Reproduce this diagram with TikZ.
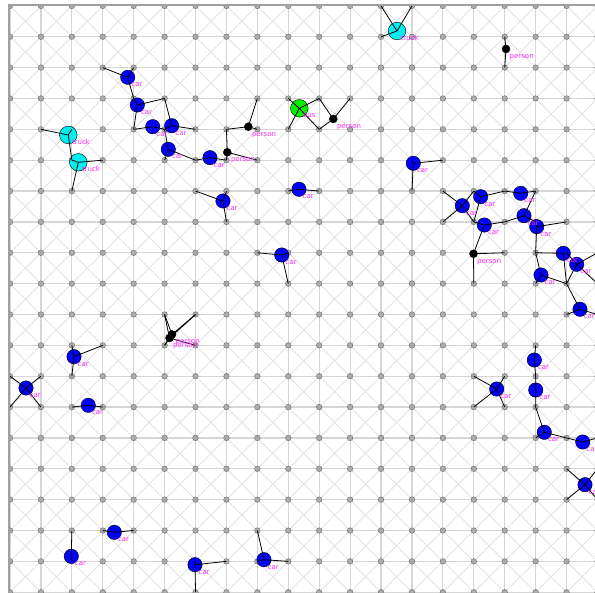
\documentclass[tikz,border=0pt]{standalone}
\usepackage{fontspec}
\setsansfont{DejaVu Sans}
\definecolor{gl}{HTML}{D6D6D6}
\definecolor{gd}{HTML}{DEDEDE}
\definecolor{dotf}{HTML}{ABABAB}
\definecolor{dotd}{HTML}{6A6A6A}
\definecolor{frm}{HTML}{A0A0A0}
\definecolor{lblc}{RGB}{255,40,255}
\definecolor{truckc}{RGB}{0,240,240}
\definecolor{busc}{RGB}{0,240,0}
\definecolor{carc}{RGB}{0,0,255}
\tikzset{
  gridline/.style={draw=gl,line width=1.2pt},
  diagline/.style={draw=gd,line width=0.7pt},
  gdot/.style={circle,fill=dotf,draw=dotd,line width=0.4pt,minimum size=5.6pt,inner sep=0pt},
  carv/.style={circle,fill=carc,draw=black,line width=0.4pt,minimum size=14.4pt,inner sep=0pt},
  truckv/.style={circle,fill=truckc,draw=black,line width=0.4pt,minimum size=17.6pt,inner sep=0pt},
  busv/.style={circle,fill=busc,draw=black,line width=0.4pt,minimum size=17.6pt,inner sep=0pt},
  personv/.style={circle,fill=black,draw=black,line width=0.4pt,minimum size=8pt,inner sep=0pt},
  lbl/.style={anchor=base west,inner sep=0pt,text=lblc,font=\sffamily\fontsize{7}{8}\selectfont},
  link/.style={draw=black,line width=0.8pt},
  frameline/.style={draw=frm,line width=1.5pt}
}
\newcommand\veh[5]{\node[#2] (#1) at (#3,#4) {};}
\newcommand\vlab[4]{\node[lbl] (#1-l) at ({#2+3.5},{#3+9.5}) {#4};}
\newcommand\lk[2]{\foreach \g in {#2} {\draw[link] (#1.center) -- (g-\g.center);}}
\begin{document}
\begin{tikzpicture}[x=1pt,y=-1pt]
\useasboundingbox (0,0) rectangle (595,593);
\begin{scope}
\clip (9,5) rectangle (595,593);
% grid lines
\foreach \i in {0,...,19} {
  \draw[gridline] ({10+30.92*\i},0) -- ({10+30.92*\i},600);
  \draw[gridline] (0,{5.9+30.86*\i}) -- (600,{5.9+30.86*\i});
}
% diagonals
\foreach \i in {0,...,18} {
  \foreach \j in {0,...,18} {
    \draw[diagline] ({10+30.92*\i},{5.9+30.86*\j}) -- ({10+30.92*(\i+1)},{5.9+30.86*(\j+1)});
    \draw[diagline] ({10+30.92*(\i+1)},{5.9+30.86*\j}) -- ({10+30.92*\i},{5.9+30.86*(\j+1)});
  }
}
% grid nodes
\foreach \i in {0,...,19} {
  \foreach \j in {0,...,19} {
    \node[gdot] (g-\i-\j) at ({10+30.92*\i},{5.9+30.86*\j}) {};
  }
}
% vehicles
\veh{t1}{truckv}{68.3}{135}{}
\veh{t2}{truckv}{78.3}{162.3}{}
\veh{t3}{truckv}{397}{31}{}
\veh{b1}{busv}{299.3}{108.3}{}
\veh{p1}{personv}{227.3}{152.3}{}
\veh{p2}{personv}{248.3}{126.7}{}
\veh{p3}{personv}{333.3}{119}{}
\veh{p4}{personv}{506}{49}{}
\veh{p5}{personv}{473.5}{253.8}{}
\veh{p6}{personv}{169.5}{338}{}
\veh{p7}{personv}{172}{334.5}{}
\veh{c1}{carv}{127.7}{77.3}{}
\veh{c2}{carv}{137.3}{105}{}
\veh{c3}{carv}{152.7}{126.7}{}
\veh{c4}{carv}{171.7}{125.7}{}
\veh{c5}{carv}{168.3}{149.3}{}
\veh{c6}{carv}{210}{157.7}{}
\veh{c7}{carv}{299}{189.3}{}
\veh{c8}{carv}{223}{201}{}
\veh{c9}{carv}{413.3}{163.3}{}
\veh{c10}{carv}{281.7}{255}{}
\veh{c11}{carv}{462.3}{205.7}{}
\veh{c12}{carv}{480.7}{196.7}{}
\veh{c13}{carv}{520.7}{193.3}{}
\veh{c14}{carv}{484.3}{225}{}
\veh{c15}{carv}{524}{215.7}{}
\veh{c16}{carv}{536.7}{226.7}{}
\veh{c17}{carv}{563.3}{253.3}{}
\veh{c18}{carv}{576.7}{264.3}{}
\veh{c19}{carv}{541}{275}{}
\veh{c20}{carv}{580}{309.3}{}
\veh{c21}{carv}{534.3}{360}{}
\veh{c22}{carv}{535.7}{390}{}
\veh{c23}{carv}{496.7}{389}{}
\veh{c24}{carv}{544.3}{432.3}{}
\veh{c25}{carv}{582.7}{442}{}
\veh{c26}{carv}{585}{484.7}{}
\veh{c27}{carv}{74}{356.7}{}
\veh{c28}{carv}{26}{388}{}
\veh{c29}{carv}{88.3}{405.3}{}
\veh{c30}{carv}{114.3}{532.3}{}
\veh{c31}{carv}{71.3}{556.3}{}
\veh{c32}{carv}{195}{564.7}{}
\veh{c33}{carv}{264}{559.7}{}
% links
\lk{t1}{1-4,2-4,2-5}
\lk{t2}{2-5,3-5,2-6}
\lk{t3}{12-0,13-0,12-1}
\lk{b1}{9-3,10-3,9-4,10-4}
\lk{p1}{7-4,8-5,7-5}
\lk{p2}{7-4,8-3,8-4}
\lk{p3}{10-3,11-3,10-4}
\lk{p4}{16-1,16-2}
\lk{p5}{15-8,16-8,15-9}
\lk{p6}{5-10,6-10,5-11,6-11}
\lk{p7}{5-10,6-10,5-11}
\lk{c1}{3-2,4-2,4-3}
\lk{c2}{4-3,5-3,4-4}
\lk{c3}{4-4,5-4}
\lk{c4}{5-3,6-4,5-4}
\lk{c5}{5-4,6-5,5-5}
\lk{c6}{6-5,7-5}
\lk{c7}{9-6,10-6}
\lk{c8}{6-6,7-7,7-6}
\lk{c9}{14-5,13-6,13-5}
\lk{c10}{8-8,9-9,9-8}
\lk{c11}{14-6,15-6,14-7,15-7}
\lk{c12}{15-6,16-6,15-7}
\lk{c13}{16-6,17-6}
\lk{c14}{15-7,16-7,15-8}
\lk{c15}{16-7,17-6,17-7}
\lk{c16}{17-7,18-7,17-8}
\lk{c17}{17-8,18-8,18-9}
\lk{c18}{18-8,19-8,18-9,19-9}
\lk{c19}{17-8,18-9,17-9}
\lk{c20}{18-9,18-10,19-10}
\lk{c21}{17-11,17-12}
\lk{c22}{17-12,17-13}
\lk{c23}{15-12,16-12,15-13,16-13}
\lk{c24}{17-13,18-14,17-14}
\lk{c25}{18-14,19-14}
\lk{c26}{18-15,18-16,19-15,19-16}
\lk{c27}{2-11,3-11,2-12}
\lk{c28}{0-12,1-12,0-13,1-13}
\lk{c29}{2-13,3-13}
\lk{c30}{3-17,4-17}
\lk{c31}{2-17,2-18}
\lk{c32}{6-18,7-18,6-19}
\lk{c33}{8-17,8-18,9-18}
% labels
\vlab{t1}{68.3}{135}{truck}
\vlab{t2}{78.3}{162.3}{truck}
\vlab{t3}{397}{31}{truck}
\vlab{b1}{299.3}{108.3}{bus}
\vlab{p1}{227.3}{152.3}{person}
\vlab{p2}{248.3}{126.7}{person}
\vlab{p3}{333.3}{119}{person}
\vlab{p4}{506}{49}{person}
\vlab{p5}{473.5}{253.8}{person}
\vlab{p6}{169.5}{338}{person}
\vlab{p7}{172}{334.5}{person}
\vlab{c1}{127.7}{77.3}{car}
\vlab{c2}{137.3}{105}{car}
\vlab{c3}{152.7}{126.7}{car}
\vlab{c4}{171.7}{125.7}{car}
\vlab{c5}{168.3}{149.3}{car}
\vlab{c6}{210}{157.7}{car}
\vlab{c7}{299}{189.3}{car}
\vlab{c8}{223}{201}{car}
\vlab{c9}{413.3}{163.3}{car}
\vlab{c10}{281.7}{255}{car}
\vlab{c11}{462.3}{205.7}{car}
\vlab{c12}{480.7}{196.7}{car}
\vlab{c13}{520.7}{193.3}{car}
\vlab{c14}{484.3}{225}{car}
\vlab{c15}{524}{215.7}{car}
\vlab{c16}{536.7}{226.7}{car}
\vlab{c17}{563.3}{253.3}{car}
\vlab{c18}{576.7}{264.3}{car}
\vlab{c19}{541}{275}{car}
\vlab{c20}{580}{309.3}{car}
\vlab{c21}{534.3}{360}{car}
\vlab{c22}{535.7}{390}{car}
\vlab{c23}{496.7}{389}{car}
\vlab{c24}{544.3}{432.3}{car}
\vlab{c25}{582.7}{442}{car}
\vlab{c26}{585}{484.7}{car}
\vlab{c27}{74}{356.7}{car}
\vlab{c28}{26}{388}{car}
\vlab{c29}{88.3}{405.3}{car}
\vlab{c30}{114.3}{532.3}{car}
\vlab{c31}{71.3}{556.3}{car}
\vlab{c32}{195}{564.7}{car}
\vlab{c33}{264}{559.7}{car}
\end{scope}
\coordinate (fbl) at (9,593);
\coordinate (ftl) at (9,5);
\coordinate (ftr) at (595,5);
\draw[frameline] (fbl) -- (ftl) -- (ftr);
\end{tikzpicture}
\end{document}
